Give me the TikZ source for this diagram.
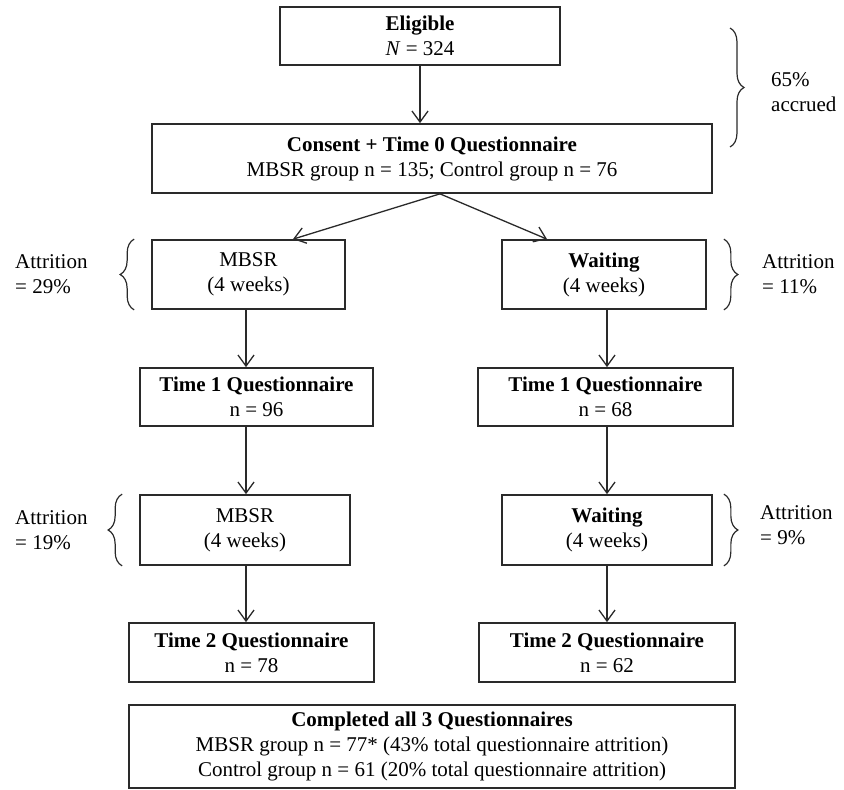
\documentclass[tikz,border=0pt]{standalone}
\usepackage{fontspec}
\setmainfont{Liberation Serif}
\usetikzlibrary{arrows.meta, decorations.pathreplacing}
\definecolor{boxstr}{HTML}{2A2A2A}
\newcommand{\flowfont}{\fontsize{21}{25}\selectfont}
\tikzset{
  box/.style   ={rectangle, draw=boxstr, line width=1.7pt, align=center,
                 font=\flowfont, inner sep=2pt},
  note/.style  ={align=left, anchor=west, font=\flowfont, inner sep=0pt},
  flow/.style  ={-{Straight Barb[length=11pt, width=16pt]}, line width=1.3pt, draw=boxstr},
  curly/.style ={decorate, decoration={brace, amplitude=14pt}, line width=1.2pt, draw=boxstr},
}

\begin{document}
\begin{tikzpicture}[x=1pt, y=-1pt]
    \useasboundingbox (0,0) rectangle (844,790);
    \node[box, minimum width=280pt, minimum height=58pt] (elig) at (420,36) {\textbf{Eligible}\\\textit{N} = 324};
    \node[box, minimum width=560pt, minimum height=69pt] (consent) at (432,158.5) {\textbf{Consent + Time 0 Questionnaire}\\MBSR group n = 135; Control group n = 76};
    \node[box, minimum width=193pt, minimum height=69pt] (mbsrA) at (248.5,274.5) {MBSR\\(4 weeks)};
    \node[box, minimum width=204pt, minimum height=69pt] (waitA) at (604,274.5) {\textbf{Waiting}\\(4 weeks)};
    \node[box, minimum width=233pt, minimum height=58pt] (tOneM) at (256.5,397) {\textbf{Time 1 Questionnaire}\\n = 96};
    \node[box, minimum width=255pt, minimum height=58pt] (tOneW) at (605.5,397) {\textbf{Time 1 Questionnaire}\\n = 68};
    \node[box, minimum width=210pt, minimum height=70pt] (mbsrB) at (245,530) {MBSR\\(4 weeks)};
    \node[box, minimum width=210pt, minimum height=70pt] (waitB) at (607,530) {\textbf{Waiting}\\(4 weeks)};
    \node[box, minimum width=245pt, minimum height=59pt] (tTwoM) at (251.5,652.5) {\textbf{Time 2 Questionnaire}\\n = 78};
    \node[box, minimum width=256pt, minimum height=59pt] (tTwoW) at (607,652.5) {\textbf{Time 2 Questionnaire}\\n = 62};
    \node[box, minimum width=606pt, minimum height=83pt] (done) at (432,746.5) {\textbf{Completed all 3 Questionnaires}\\MBSR group n = 77* (43\% total questionnaire attrition)\\Control group n = 61 (20\% total questionnaire attrition)};
    \node[note] (accr) at (771,92.5) {65\%\\accrued};
    \node[note] (attA) at (15,274.5) {Attrition\\= 29\%};
    \node[note] (attB) at (762,274.5) {Attrition\\= 11\%};
    \node[note] (attC) at (15,530) {Attrition\\= 19\%};
    \node[note] (attD) at (760,525.5) {Attrition\\= 9\%};
    \coordinate (fork) at ([xshift=8pt]consent.south);
    \coordinate (colL) at (246,0);
    \coordinate (colR) at (607,0);
    \draw[flow] (elig.south) -- (elig.south |- consent.north);
    \draw[flow] (fork) -- ([xshift=44.5pt]mbsrA.north);
    \draw[flow] (fork) -- ([xshift=-57pt]waitA.north);
    \draw[flow] (mbsrA.south -| colL) -- (tOneM.north -| colL);
    \draw[flow] (tOneM.south -| colL) -- (mbsrB.north -| colL);
    \draw[flow] (mbsrB.south -| colL) -- (tTwoM.north -| colL);
    \draw[flow] (waitA.south -| colR) -- (tOneW.north -| colR);
    \draw[flow] (tOneW.south -| colR) -- (waitB.north -| colR);
    \draw[flow] (waitB.south -| colR) -- (tTwoW.north -| colR);
    \draw[curly] (730,28) -- (730,147);
    \draw[curly] ([xshift=-17pt]mbsrA.south west) -- ([xshift=-17pt]mbsrA.north west);
    \draw[curly] ([xshift=17pt]waitA.north east) -- ([xshift=17pt]waitA.south east);
    \draw[curly] ([xshift=-17pt]mbsrB.south west) -- ([xshift=-17pt]mbsrB.north west);
    \draw[curly] ([xshift=11pt]waitB.north east) -- ([xshift=11pt]waitB.south east);
\end{tikzpicture}
\end{document}
